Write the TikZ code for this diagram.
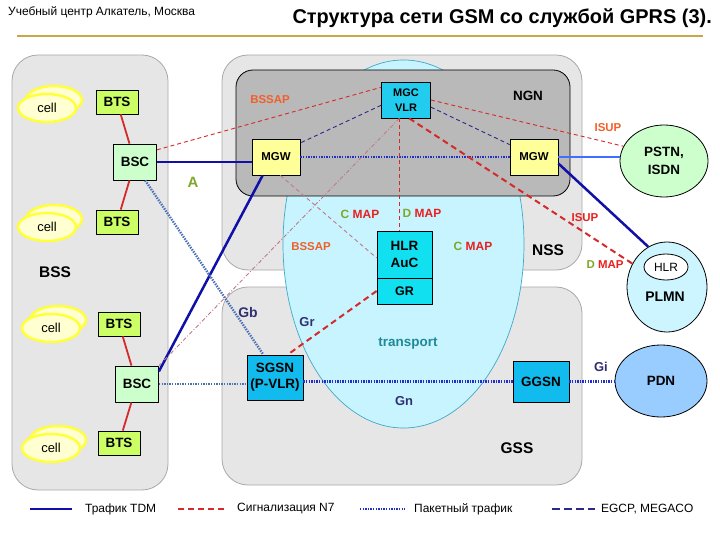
\documentclass[tikz,border=0pt]{standalone}
\usepackage{fontspec}
\setmainfont{Liberation Sans}
\usepackage{xcolor}
\usetikzlibrary{shapes.geometric}
\definecolor{box-gray}{HTML}{E6E6E6}
\definecolor{box-edge}{HTML}{A8A8A8}
\definecolor{ngn-gray}{HTML}{B9B9B9}
\definecolor{transport-cyan}{HTML}{C8F4FF}
\definecolor{transport-edge}{HTML}{3FA9C8}
\definecolor{cell-fill}{HTML}{FFFFD2}
\definecolor{cell-glow}{HTML}{FFFF3A}
\definecolor{bts-green}{HTML}{CCFF66}
\definecolor{bsc-green}{HTML}{CCFFCC}
\definecolor{mgw-yellow}{HTML}{FFFF99}
\definecolor{mgc-cyan}{HTML}{22CCEE}
\definecolor{hlr-cyan}{HTML}{11E0F0}
\definecolor{gsn-blue}{HTML}{11BBEE}
\definecolor{plmn-fill}{HTML}{CCF5FF}
\definecolor{pdn-blue}{HTML}{99CCFF}
\definecolor{tdm-blue}{HTML}{1010A8}
\definecolor{pstn-blue}{HTML}{3F6FFF}
\definecolor{packet-blue}{HTML}{1F2FC8}
\definecolor{gb-blue}{HTML}{4A6FB5}
\definecolor{n7-red}{HTML}{D42A2A}
\definecolor{n7-pink}{HTML}{C07A88}
\definecolor{egcp-navy}{HTML}{2A2A8A}
\definecolor{label-orange}{HTML}{F0602A}
\definecolor{label-red}{HTML}{E82020}
\definecolor{label-olive}{HTML}{7FA82A}
\definecolor{label-navy}{HTML}{2E3070}
\definecolor{label-teal}{HTML}{1F8A96}
\definecolor{title-gold}{HTML}{C9A646}
\newcommand{\maplbl}[1]{{\color{label-olive}#1}~{\color{label-red}MAP}}

\begin{document}
\begin{tikzpicture}[x=1bp, y=-1bp, line join=round,
    area/.style={draw=box-edge, line width=0.8bp, fill=box-gray, rounded corners=26bp},
    cellglow/.style={draw=cell-glow, fill=cell-fill, line width=2.5bp},
    cellnode/.style={cellglow, ellipse, minimum width=58bp, minimum height=28bp,
                     inner sep=0pt, font=\fontsize{13}{15}\selectfont},
    unit/.style={draw, line width=0.8bp, inner sep=0pt, align=center,
                 font=\bfseries\fontsize{13.5}{16}\selectfont},
    bts/.style={unit, fill=bts-green, minimum width=42bp, minimum height=24bp},
    bsc/.style={unit, fill=bsc-green, minimum width=43bp, minimum height=36bp},
    mgw/.style={unit, fill=mgw-yellow, minimum width=48bp, minimum height=36bp,
                font=\bfseries\fontsize{11.5}{13}\selectfont},
    gsn/.style={unit, fill=gsn-blue, minimum width=56bp},
    cloud/.style={draw, line width=0.8bp, ellipse, inner sep=0pt, align=center,
                  font=\bfseries\fontsize{13.5}{18}\selectfont},
    lbl/.style={inner sep=0pt, font=\bfseries\fontsize{11.5}{13}\selectfont},
    area label/.style={inner sep=0pt, font=\bfseries\fontsize{15.5}{17}\selectfont},
    iface/.style={inner sep=0pt, text=label-navy, font=\bfseries\fontsize{13.5}{15}\selectfont},
    tdm/.style={draw=tdm-blue, line width=2.5bp},
    radio/.style={draw=n7-red, line width=1.8bp},
    packet/.style={draw=packet-blue, line width=2.4bp, dash pattern=on 1.4bp off 1.2bp},
    sig/.style={draw=n7-red, line width=0.9bp, dash pattern=on 4bp off 3bp},
    sig heavy/.style={draw=n7-red, line width=2bp, dash pattern=on 6bp off 4bp},
    sig faint/.style={draw=n7-pink, line width=0.9bp, dash pattern=on 4bp off 2bp on 1bp off 2bp},
    egcp/.style={draw=egcp-navy, line width=0.9bp, dash pattern=on 4bp off 3bp},
    legend text/.style={anchor=west, inner sep=0pt, font=\fontsize{12}{14}\selectfont}
  ]
    % Slide: BSS on the left, NSS/GSS on the right, transport ellipse between.
    % Coordinates: (x, y) in px of a 720x540 slide, y grows downwards
    %   BSS area (12,55)-(168,490), NSS area (222,55)-(582,270)
    %   GSS area (222,287)-(582,485), NGN block (236,70)-(570,196)
    %   transport ellipse at (403.5,244), radii 120.5 x 184
    %   legend row at y=509
    \useasboundingbox (0,0) rectangle (720,540);

    % header
    \node[anchor=west, inner sep=0pt, font=\fontsize{12}{14}\selectfont] (school) at (8,12)
      {Учебный центр Алкатель, Москва};
    \node[anchor=east, inner sep=0pt, font=\bfseries\fontsize{20}{24}\selectfont] (title) at (712,18)
      {Структура сети GSM со службой GPRS (3).};
    \draw[title-gold, line width=2bp] (17,36) -- (703,36);

    % areas
    \path[area] (12,55) rectangle (168,490);
    \path[area] (222,55) rectangle (582,270);
    \path[area] (222,287) rectangle (582,485);
    \draw[fill=transport-cyan, draw=transport-edge, line width=0.7bp]
      (403.5,244) ellipse [x radius=120.5, y radius=184];
    \draw[fill=ngn-gray, line width=0.8bp, rounded corners=17bp] (236,70) rectangle (570,196);

    % cells
    \draw[cellglow] (54,100) ellipse [x radius=28, y radius=14];
    \node[cellnode] (cellA) at (47,108) {cell};
    \draw[cellglow] (54,219) ellipse [x radius=28, y radius=14];
    \node[cellnode] (cellB) at (47,227) {cell};
    \draw[cellglow] (58,320) ellipse [x radius=28, y radius=14];
    \node[cellnode] (cellC) at (51,328) {cell};
    \draw[cellglow] (58,440) ellipse [x radius=28, y radius=14];
    \node[cellnode] (cellD) at (51,448) {cell};

    % BSS units
    \node[bts] (btsA) at (117,102) {BTS};
    \node[bsc] (bscA) at (135,162) {BSC};
    \node[bts] (btsB) at (117,222) {BTS};
    \node[bts] (btsC) at (119,324) {BTS};
    \node[bsc] (bscB) at (137,384) {BSC};
    \node[bts] (btsD) at (119,443) {BTS};

    % NSS / GSS units
    \node[mgw] (mgwL) at (276,157) {MGW};
    \node[mgw] (mgwR) at (534,157) {MGW};
    \node[unit, fill=mgc-cyan, minimum width=49bp, minimum height=36bp,
          font=\bfseries\fontsize{11}{14.5}\selectfont] (mgc) at (406,100) {MGC\\VLR};
    \node[unit, fill=hlr-cyan, minimum width=55bp, minimum height=47bp,
          font=\bfseries\fontsize{13.5}{17}\selectfont] (hlr) at (404.5,254.5) {HLR\\AuC};
    \node[unit, fill=hlr-cyan, minimum width=55bp, minimum height=26bp,
          font=\bfseries\fontsize{12.5}{14}\selectfont] (gr) at (404.5,291) {GR};
    \node[gsn, minimum height=45bp] (sgsn) at (275,377.5) {SGSN\\(P-VLR)};
    \node[gsn, minimum height=41bp] (ggsn) at (541,381.5) {GGSN};

    % outside networks
    \node[cloud, fill=bsc-green, minimum width=88bp, minimum height=72bp] (pstn) at (664,161) {PSTN,\\ISDN};
    \node[cloud, fill=plmn-fill, minimum width=80bp, minimum height=90bp] (plmn) at (667,287) {};
    \node[cloud, fill=white, minimum width=44bp, minimum height=26bp,
          font=\fontsize{12}{14}\selectfont] (plmnHlr) at (666,267) {HLR};
    \node[inner sep=0pt, font=\bfseries\fontsize{14}{16}\selectfont] (plmnName) at (665,297) {PLMN};
    \node[cloud, fill=pdn-blue, minimum width=92bp, minimum height=72bp] (pdn) at (661,381) {PDN};

    % radio side
    \draw[radio] (btsA) -- (bscA);
    \draw[radio] (bscA) -- (btsB);
    \draw[radio] (btsC) -- (bscB);
    \draw[radio] (bscB) -- (btsD);

    % TDM traffic
    \draw[tdm] (bscA.east) -- (bscA.east -| mgwL.west);
    \draw[tdm] (mgwL.234) -- (bscB.30);
    \draw[tdm] (mgwR.-15) -- (plmn.115);
    \draw[tdm, draw=pstn-blue, line width=2bp] (mgwR.east) -- (mgwR.east -| pstn.west);

    % packet traffic
    \draw[packet] (mgwL.east) -- (mgwR.west);
    \draw[packet, draw=gb-blue] (bscA.-61) -- (sgsn.117);
    \draw[packet, draw=gb-blue] (bscB.east) -- (bscB.east -| sgsn.west);
    \draw[packet] (sgsn.east |- ggsn.west) -- (ggsn.west);
    \draw[packet] (ggsn.east) -- (ggsn.east -| pdn.west);

    % N7 signalling
    \draw[sig] (bscA.29) -- (mgc.153);
    \draw[sig] (mgc.east) -- (pstn.160);
    \draw[sig heavy] (mgc.-80) -- (plmn.146);
    \draw[sig] (hlr.101 |- mgc.south) -- (hlr.101);
    \draw[sig faint] (mgc.-110) -- (bscB.north east);
    \draw[sig faint, dash pattern=on 4bp off 3bp] (mgwL.-77) -- (hlr.187);
    \draw[sig heavy] (gr.west) -- (sgsn.61);

    % gateway control
    \draw[egcp] (mgc.192) -- (mgwL.30);
    \draw[egcp] (mgc.-16) -- (mgwR.153);

    % labels
    \node[area label, font=\bfseries\fontsize{13.5}{15}\selectfont] (ngnName) at (528,96) {NGN};
    \node[area label] (nssName) at (548,250) {NSS};
    \node[area label] (bssName) at (55,272) {BSS};
    \node[area label] (gssName) at (517,448) {GSS};
    \node[lbl, text=label-orange] (bssapTop) at (270,100) {BSSAP};
    \node[lbl, text=label-orange] (bssapLow) at (311,247) {BSSAP};
    \node[lbl, text=label-orange] (isupTop) at (608,128) {ISUP};
    \node[lbl, text=label-red] (isupLow) at (585,218) {ISUP};
    \node[lbl, font=\bfseries\fontsize{12}{14}\selectfont] (cmapLeft) at (360,214) {\maplbl{C}};
    \node[lbl, font=\bfseries\fontsize{12}{14}\selectfont] (dmapTop) at (422,213) {\maplbl{D}};
    \node[lbl, font=\bfseries\fontsize{12}{14}\selectfont] (cmapRight) at (473,246) {\maplbl{C}};
    \node[lbl] (dmapRight) at (605,265) {\maplbl{D}};
    \node[lbl, text=label-olive, font=\bfseries\fontsize{15}{17}\selectfont] (aIface) at (193,182) {A};
    \node[iface, font=\bfseries\fontsize{14}{16}\selectfont] (gbIface) at (248,313) {Gb};
    \node[iface, font=\bfseries\fontsize{13}{15}\selectfont] (grIface) at (307,322) {Gr};
    \node[iface, font=\bfseries\fontsize{13}{15}\selectfont] (gnIface) at (404,401) {Gn};
    \node[iface, font=\bfseries\fontsize{13}{15}\selectfont] (giIface) at (601,367) {Gi};
    \node[inner sep=0pt, text=label-teal, font=\bfseries\fontsize{13.5}{15}\selectfont] (transportName) at (408,344) {transport};

    % legend
    \coordinate (tdmA) at (30,509);   \coordinate (tdmB) at (72,509);
    \coordinate (sigA) at (178,509);  \coordinate (sigB) at (228,509);
    \coordinate (pktA) at (360,509);  \coordinate (pktB) at (405,509);
    \coordinate (egcpA) at (552,509); \coordinate (egcpB) at (595,509);
    \draw[tdm] (tdmA) -- (tdmB);
    \draw[sig heavy, line width=1.6bp] (sigA) -- (sigB);
    \draw[packet, line width=1.6bp] (pktA) -- (pktB);
    \draw[egcp, line width=2bp, dash pattern=on 8bp off 4bp] (egcpA) -- (egcpB);
    \node[legend text] (tdmText) at (85,509) {Трафик TDM};
    \node[legend text] (sigText) at (237,509) {Сигнализация N7};
    \node[legend text] (pktText) at (414,509) {Пакетный трафик};
    \node[legend text] (egcpText) at (601,509) {EGCP, MEGACO};
\end{tikzpicture}
\end{document}
